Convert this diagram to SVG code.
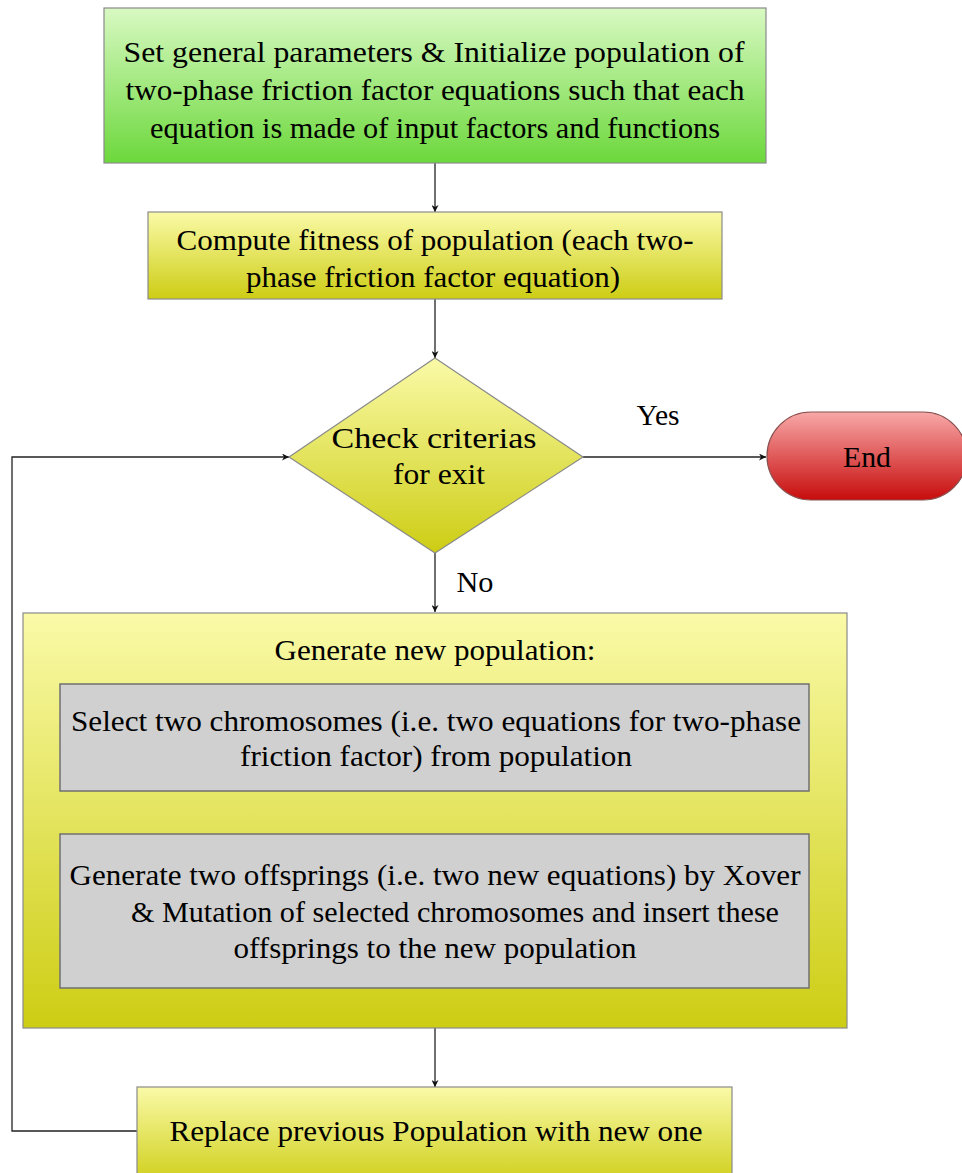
<svg xmlns="http://www.w3.org/2000/svg" width="962" height="1173" viewBox="0 0 962 1173">
<style>
text{font-family:'Liberation Serif','Times New Roman',serif;font-size:30px;fill:#000;text-anchor:middle}
.box{stroke:#8a8a8a;stroke-width:1.2}
.gray{fill:#d0d0d0;stroke:#707070;stroke-width:1.5}
.conn{fill:none;stroke:#222;stroke-width:1.3}
</style>
<defs>
<linearGradient id="gGreen" x1="0" y1="0" x2="0" y2="1"><stop offset="0" stop-color="#d8f9c2"/><stop offset="1" stop-color="#6cd83c"/></linearGradient>
<linearGradient id="gYel" x1="0" y1="0" x2="0" y2="1"><stop offset="0" stop-color="#fafaa8"/><stop offset="1" stop-color="#cdcd14"/></linearGradient>
<linearGradient id="gRed" x1="0" y1="0" x2="0" y2="1"><stop offset="0" stop-color="#f8a8a8"/><stop offset="1" stop-color="#c80c0c"/></linearGradient>
<marker id="arr" viewBox="0 0 10 10" refX="10" refY="5" markerWidth="7" markerHeight="7" markerUnits="userSpaceOnUse" orient="auto"><path d="M0,0 L10,5 L0,10 L3,5 z" fill="#111"/></marker>
</defs>
<g id="connectors">
<line class="conn" x1="435" y1="163" x2="435" y2="212" marker-end="url(#arr)"/>
<line class="conn" x1="435" y1="299" x2="435" y2="358" marker-end="url(#arr)"/>
<line class="conn" x1="583" y1="457" x2="766" y2="457" marker-end="url(#arr)"/>
<line class="conn" x1="435" y1="553" x2="435" y2="612" marker-end="url(#arr)"/>
<line class="conn" x1="435" y1="791" x2="435" y2="834" marker-end="url(#arr)"/>
<line class="conn" x1="435" y1="1028" x2="435" y2="1087" marker-end="url(#arr)"/>
<polyline class="conn" points="137,1131 12,1131 12,457 289,457" marker-end="url(#arr)"/>
<text x="658" y="425" textLength="43" lengthAdjust="spacingAndGlyphs">Yes</text>
<text x="475" y="592" textLength="37" lengthAdjust="spacingAndGlyphs">No</text>
</g>
<g id="init">
<rect class="box" x="104" y="8" width="662" height="155" fill="url(#gGreen)"/>
<text x="434" y="62" textLength="621" lengthAdjust="spacingAndGlyphs">Set general parameters &amp; Initialize population of</text>
<text x="435" y="100" textLength="619" lengthAdjust="spacingAndGlyphs">two-phase friction factor equations such that each</text>
<text x="435" y="138" textLength="570" lengthAdjust="spacingAndGlyphs">equation is made of input factors and functions</text>
</g>
<g id="fitness">
<rect class="box" x="148" y="212" width="574" height="87" fill="url(#gYel)"/>
<text x="435" y="250" textLength="517" lengthAdjust="spacingAndGlyphs">Compute fitness of population (each two-</text>
<text x="433" y="287" textLength="374" lengthAdjust="spacingAndGlyphs">phase friction factor equation)</text>
</g>
<g id="check">
<polygon class="box" points="435,358 583,457 435,553 289,457" fill="url(#gYel)"/>
<text x="434" y="448" textLength="205" lengthAdjust="spacingAndGlyphs">Check criterias</text>
<text x="439" y="484" textLength="92" lengthAdjust="spacingAndGlyphs">for exit</text>
</g>
<g id="end">
<rect x="767" y="412" width="200" height="88" rx="44" ry="44" fill="url(#gRed)" stroke="#8a5050" stroke-width="1.2"/>
<text x="867" y="467" textLength="48" lengthAdjust="spacingAndGlyphs">End</text>
</g>
<g id="generate">
<rect class="box" x="23" y="613" width="824" height="415" fill="url(#gYel)" stroke="#666"/>
<text x="435" y="660" textLength="321" lengthAdjust="spacingAndGlyphs">Generate new population:</text>
</g>
<g id="select">
<rect class="gray" x="60" y="684" width="749" height="107"/>
<text x="436" y="731" textLength="730" lengthAdjust="spacingAndGlyphs">Select two chromosomes (i.e. two equations for two-phase</text>
<text x="436" y="766" textLength="392" lengthAdjust="spacingAndGlyphs">friction factor) from population</text>
</g>
<g id="offspring">
<rect class="gray" x="60" y="834" width="749" height="154"/>
<text x="435" y="885" textLength="731" lengthAdjust="spacingAndGlyphs">Generate two offsprings (i.e. two new equations) by Xover</text>
<text x="455" y="922" textLength="648" lengthAdjust="spacingAndGlyphs">&amp; Mutation of selected chromosomes and insert these</text>
<text x="435" y="958" textLength="403" lengthAdjust="spacingAndGlyphs">offsprings to the new population</text>
</g>
<g id="replace">
<rect class="box" x="137" y="1087" width="595" height="100" fill="url(#gYel)"/>
<text x="436" y="1141" textLength="533" lengthAdjust="spacingAndGlyphs">Replace previous Population with new one</text>
</g>
</svg>
